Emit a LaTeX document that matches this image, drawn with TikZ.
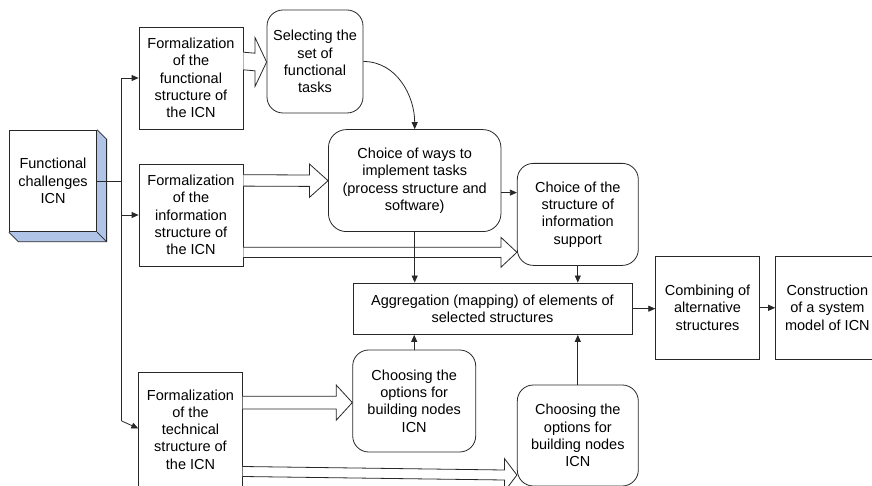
\documentclass[tikz,border=0pt]{standalone}
\usepackage{fontspec}
\setmainfont{Liberation Sans}
\usetikzlibrary{calc,arrows.meta}
\definecolor{depthblue}{RGB}{176,196,232}
\definecolor{ln}{RGB}{40,40,40}
\tikzset{
  every node/.style={font=\fontsize{14.5pt}{17.3pt}\selectfont, text=black},
  box/.style={draw=ln, line width=0.8pt, fill=white, align=center, inner sep=0pt},
  rbox/.style={box, rounded corners=16pt},
  arr/.style={draw=ln, line width=0.8pt, -{Triangle[length=7pt,width=6pt]}},
  plain/.style={draw=ln, line width=0.8pt},
  harrow/.style={draw=ln, line width=0.8pt, fill=white, line join=miter},
}
\newcommand\hollow[5]{%
  \draw[harrow] let \p1=(#1), \p2=(#2) in
    ({\x1},{\y1+#3}) -- ({\x2-#5},{\y2+#3}) -- ({\x2-#5},{\y2+#4}) -- (\p2)
    -- ({\x2-#5},{\y2-#4}) -- ({\x2-#5},{\y2-#3}) -- ({\x1},{\y1-#3});
}
\begin{document}
\begin{tikzpicture}[x=1pt,y=-1pt]
\useasboundingbox (0,0) rectangle (872,486);
% 3D box
\node[box, minimum width=87.4pt, minimum height=101.7pt] (fc) at (53,181) {Functional\\challenges\\ICN};
\fill[depthblue] (fc.north east) -- ++(9.5,9.5) -- ($(fc.south east)+(9.5,9.5)$) -- ($(fc.south west)+(9.5,9.5)$) -- (fc.south west) -- (fc.south east) -- cycle;
\draw[plain, line join=miter] (fc.north east) -- ++(9.5,9.5) -- ($(fc.south east)+(9.5,9.5)$) -- ($(fc.south west)+(9.5,9.5)$) -- (fc.south west);
\draw[plain] (fc.south east) -- ($(fc.south east)+(9.5,9.5)$);
\node[box, minimum width=87.4pt, minimum height=101.7pt] at (53,181) {Functional\\challenges\\ICN};

% formalization boxes
\node[box, minimum width=104pt, minimum height=102pt] (f1) at (191,78) {Formalization\\of the\\functional\\structure of\\the ICN};
\node[box, minimum width=104pt, minimum height=102pt] (f2) at (191,215) {Formalization\\of the\\information\\structure of\\the ICN};
\node[box, minimum width=103.5pt, minimum height=115pt] (f3) at (190.5,429.5) {Formalization\\of the\\technical\\structure of\\the ICN};

% rounded nodes
\node[rbox, minimum width=96pt, minimum height=103pt] (sel) at (315,61.5) {Selecting the\\set of\\functional\\tasks};
\node[rbox, rounded corners=18pt, minimum width=172.5pt, minimum height=102pt] (cw) at (414.7,180.6) {Choice of ways to\\implement tasks\\(process structure and\\software)};
\node[rbox, minimum width=121pt, minimum height=102pt] (cs) at (577.8,214.4) {Choice of the\\structure of\\information\\support};
\node[box, minimum width=279pt, minimum height=51.5pt] (agg) at (492.5,308.7) {Aggregation (mapping) of elements of\\selected structures};
\node[rbox, minimum width=123pt, minimum height=102pt] (ch1) at (414.2,401) {Choosing the\\options for\\building nodes\\ICN};
\node[rbox, minimum width=121pt, minimum height=101pt] (ch2) at (577.8,435.5) {Choosing the\\options for\\building nodes\\ICN};
\node[box, minimum width=103.6pt, minimum height=102.3pt] (comb) at (707.5,307.8) {Combining of\\alternative\\structures};
\node[box, minimum width=103.6pt, minimum height=102.3pt] (cons) at (827.4,307.8) {Construction\\of a system\\model of ICN};

% left bus
\coordinate (bt) at (121.7,421);
\draw[plain] (fc.east) -- (fc.east -| bt);
\draw[plain] (f1.west -| bt) -- (bt);
\draw[arr] (f1.west -| bt) -- (f1.west);
\draw[arr] (f2.west -| bt) -- (f2.west);
\draw[arr] (bt) -- ($(f3.west)+(0,-1)$);

% hollow arrows
\hollow{$(f1.east)+(0,-17)$}{$(sel.west)+(0,0.5)$}{8.8pt}{24.7pt}{11.7pt}
\hollow{$(f2.east)+(0,-34.6)$}{$(cw.west)+(0,0.1)$}{5.7pt}{16.7pt}{18.6pt}
\hollow{$(f2.east)+(0,37.4)$}{$(cs.west)+(0,37.9)$}{5.1pt}{15pt}{16pt}
\hollow{$(f3.east)+(0,-26.9)$}{$(ch1.west)+(0,1.6)$}{6.3pt}{17.5pt}{16pt}
\hollow{$(f3.east)+(0,42)$}{$(ch2.west)+(0,39.5)$}{5pt}{16.5pt}{12.5pt}

% curved arrow
\draw[arr] (sel.east) to[out=0,in=90] (cw.north);

% other arrows
\coordinate (cwo) at ($(cw.east)+(0,12)$);
\draw[arr] (cwo) -- (cwo -| cs.west);
\draw[arr] (cw.south) -- (cw.south |- agg.north);
\draw[arr] (cs.south) -- (cs.south |- agg.north);
\draw[arr] (ch1.north) -- (ch1.north |- agg.south);
\draw[arr] (ch2.north) -- (ch2.north |- agg.south);
\draw[arr] (agg.east) -- (agg.east -| comb.west);
\draw[arr] (comb.east) -- (comb.east -| cons.west);
\end{tikzpicture}
\end{document}
